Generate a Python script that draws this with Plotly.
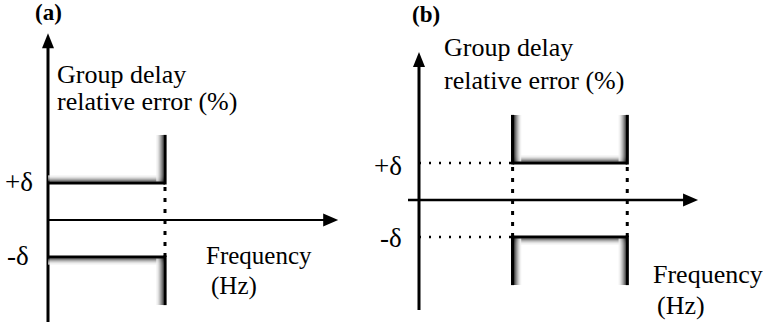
import plotly.graph_objects as go

# ---------------- data (schematic values) ----------------
delta = 1.0                    # tolerance on group-delay relative error (+delta / -delta)
wall_top = 2.3                 # how far the forbidden-region walls extend (units of delta)
fc_a = 1.0                     # panel (a): passband 0 .. fc
band_b = [0.8, 1.78]           # panel (b): passband f1 .. f2
axis_a_x = [0.0, 2.48]         # panel (a) frequency-axis extent
axis_a_y = [-2.76, 5.05]       # panel (a) error-axis extent
axis_b_x = [-0.094, 2.385]     # panel (b) frequency-axis extent
axis_b_y = [-2.97, 4.0]        # panel (b) error-axis extent
delta_labels = ["+δ", "-δ"]
y_title = ["Group delay", "relative error (%)"]
x_title = ["Frequency", "(Hz)"]
panel_labels = ["(a)", "(b)"]

# ---------------- layout constants ----------------
W, H = 763, 326
PXU_X, PXU_Y = 117.0, 37.0      # pixels per data unit
ORIG_A = (48, 220)              # pixel position of origin, panel a
ORIG_B = (419, 200)             # pixel position of origin, panel b
SPLIT = 0.5

def ranges(orig, dom):
    x0p, x1p = dom[0] * W, dom[1] * W
    xr = [(x0p - orig[0]) / PXU_X, (x1p - orig[0]) / PXU_X]
    yr = [-(H - orig[1]) / PXU_Y, orig[1] / PXU_Y]
    return xr, yr

xr_a, yr_a = ranges(ORIG_A, [0, SPLIT])
xr_b, yr_b = ranges(ORIG_B, [SPLIT, 1])

SERIF = "Liberation Serif"
GRAD_W = ["#2e2e2e", "#555555", "#7d7d7d", "#a2a2a2", "#c3c3c3", "#dedede", "#f0f0f0"]
GRAD_H = ["#3c3c3c", "#6e6e6e", "#9a9a9a", "#c0c0c0", "#dddddd", "#f0f0f0"]

shapes = []

def rect_xpix(xr, yr, xa, x0, x1, y0, y1, color):
    shapes.append(dict(type="rect", xref=xr, yref=yr, xsizemode="pixel", xanchor=xa,
                       x0=x0, x1=x1, y0=y0, y1=y1, fillcolor=color, line=dict(width=0),
                       layer="above"))

def rect_ypix(xr, yr, ya, x0, x1, y0, y1, color):
    shapes.append(dict(type="rect", xref=xr, yref=yr, ysizemode="pixel", yanchor=ya,
                       x0=x0, x1=x1, y0=y0, y1=y1, fillcolor=color, line=dict(width=0),
                       layer="above"))

def bracket(xr, yr, x_from, x_to, y_line, walls, vside):
    """Horizontal limit line at y_line from x_from..x_to, plus walls.
    walls: list of (x, side) where side=-1 shading to the left, +1 to the right.
    vside: +1 shading above line and wall going up, -1 below."""
    y_end = vside * wall_top
    for k, c in enumerate(GRAD_H):
        rect_ypix(xr, yr, y_line, x_from, x_to,
                  vside * (1.5 + k), vside * (2.5 + k), c)
    for xw, side in walls:
        for k, c in enumerate(GRAD_W):
            rect_xpix(xr, yr, xw, side * (1.6 + k), side * (2.6 + k), y_line, y_end, c)
    rect_ypix(xr, yr, y_line, x_from, x_to, -1.5, 1.5, "black")
    for xw, side in walls:
        rect_xpix(xr, yr, xw, -1.6, 1.6, y_line - vside * 1.5 / PXU_Y, y_end, "black")

def axes_arrows(xr, yr, ax_x, ax_y, x_start, vwidth, hwidth):
    shapes.append(dict(type="line", xref=xr, yref=yr, x0=0, x1=0, y0=ax_y[0],
                       y1=ax_y[1] - 10 / PXU_Y, line=dict(color="black", width=vwidth)))
    shapes.append(dict(type="path", xref=xr, yref=yr, xsizemode="pixel", ysizemode="pixel",
                       xanchor=0, yanchor=ax_y[1], path="M-6,-15L6,-15L0,0Z",
                       fillcolor="black", line=dict(width=0)))
    shapes.append(dict(type="line", xref=xr, yref=yr, x0=x_start, x1=ax_x[1] - 10 / PXU_X,
                       y0=0, y1=0, line=dict(color="black", width=hwidth)))
    shapes.append(dict(type="path", xref=xr, yref=yr, xsizemode="pixel", ysizemode="pixel",
                       xanchor=ax_x[1], yanchor=0, path="M-15,-6.5L-15,6.5L0,0Z",
                       fillcolor="black", line=dict(width=0)))

def dotted(xr, yr, x0, x1, y0, y1, dash, width):
    shapes.append(dict(type="line", xref=xr, yref=yr, x0=x0, x1=x1, y0=y0, y1=y1,
                       line=dict(color="black", width=width, dash=dash)))

# ---- panel (a): low-pass ----
axes_arrows("x", "y", axis_a_x, axis_a_y, axis_a_x[0], 3, 2)
dotted("x", "y", fc_a, fc_a, -delta, delta, "4px,7px", 3)
bracket("x", "y", 0, fc_a, delta, [(fc_a, -1)], +1)
bracket("x", "y", 0, fc_a, -delta, [(fc_a, -1)], -1)

# ---- panel (b): band-pass ----
axes_arrows("x2", "y2", axis_b_x, axis_b_y, axis_b_x[0], 3, 2.5)
for yy in (delta, -delta):
    dotted("x2", "y2", 0, band_b[0], yy, yy, "2px,8px", 2.5)
for xx in band_b:
    dotted("x2", "y2", xx, xx, -delta, delta, "4px,7px", 3)
bracket("x2", "y2", band_b[0], band_b[1], delta, [(band_b[0], +1), (band_b[1], -1)], +1)
bracket("x2", "y2", band_b[0], band_b[1], -delta, [(band_b[0], +1), (band_b[1], -1)], -1)

# ---------------- text ----------------
def px_ann(text, xpx, ypx, size=26, bold=False):
    return dict(text=f"<b>{text}</b>" if bold else text, xref="paper", yref="paper",
                x=(xpx - 2) / W, y=1 - ypx / H, xanchor="left", yanchor="middle",
                showarrow=False, font=dict(family=SERIF, size=size, color="black"))

annotations = [
    px_ann(panel_labels[0], 35, 13, 23, True),
    px_ann(panel_labels[1], 412, 15, 23, True),
    px_ann(y_title[0], 57, 74), px_ann(y_title[1], 57, 101),
    px_ann(y_title[0], 444, 47), px_ann(y_title[1], 444, 80),
    px_ann(delta_labels[0], 5, 182, 27), px_ann(delta_labels[1], 7, 256, 27),
    px_ann(delta_labels[0], 374, 166, 27), px_ann(delta_labels[1], 380, 238, 27),
    px_ann(x_title[0], 206, 255, 25), px_ann(x_title[1], 211, 286, 25),
    px_ann(x_title[0], 653, 274), px_ann(x_title[1], 657, 305),
]

fig = go.Figure()
fig.add_trace(go.Scatter(x=axis_a_x, y=[0, 0], xaxis="x", yaxis="y", mode="lines",
                         line=dict(width=0), hoverinfo="skip", showlegend=False))
fig.add_trace(go.Scatter(x=axis_b_x, y=[0, 0], xaxis="x2", yaxis="y2", mode="lines",
                         line=dict(width=0), hoverinfo="skip", showlegend=False))

ax_common = dict(visible=False, showgrid=False, zeroline=False, fixedrange=True)
fig.update_layout(
    width=W, height=H, margin=dict(l=0, r=0, t=0, b=0),
    paper_bgcolor="white", plot_bgcolor="white", showlegend=False,
    xaxis=dict(domain=[0, SPLIT], range=xr_a, anchor="y", **ax_common),
    yaxis=dict(domain=[0, 1], range=yr_a, anchor="x", **ax_common),
    xaxis2=dict(domain=[SPLIT, 1], range=xr_b, anchor="y2", **ax_common),
    yaxis2=dict(domain=[0, 1], range=yr_b, anchor="x2", **ax_common),
    shapes=shapes, annotations=annotations,
)
fig.write_html("out.html", config=dict(displayModeBar=False))
